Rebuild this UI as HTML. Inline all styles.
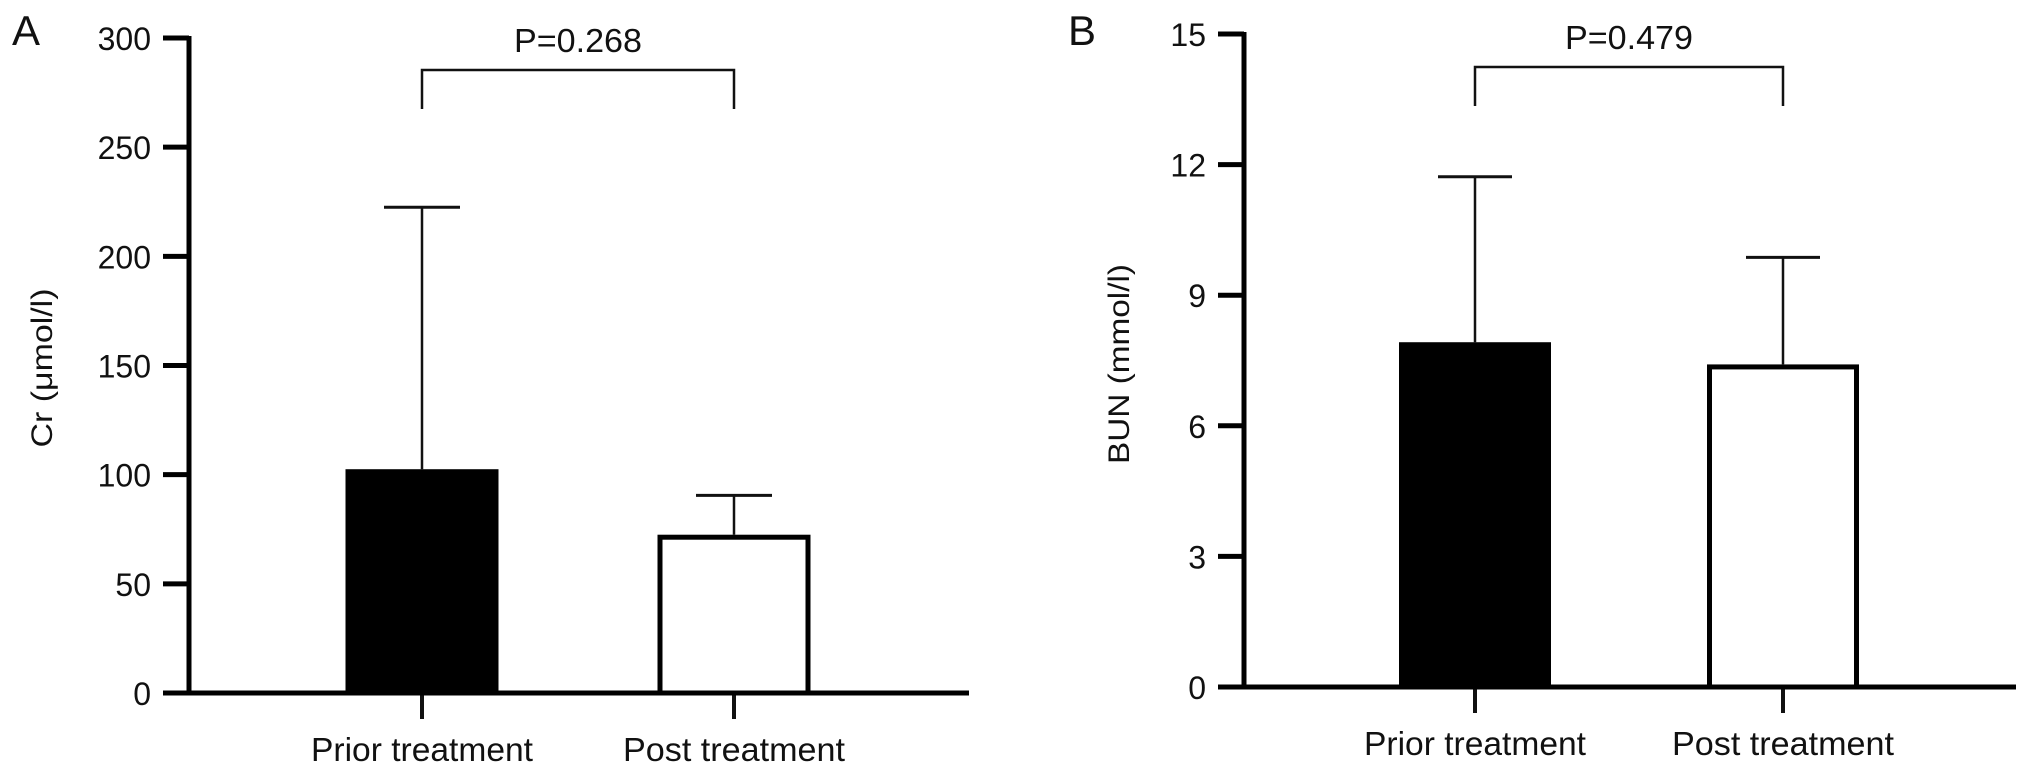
<!DOCTYPE html>
<html><head><meta charset="utf-8"><style>
html,body{margin:0;padding:0;background:#fff;}
svg{display:block;font-family:"Liberation Sans",Arial,sans-serif;}
</style></head><body>
<svg id="chart" width="2032" height="782" viewBox="0 0 2032 782" xmlns="http://www.w3.org/2000/svg">
<g id="pa"></g>
<g id="pb"></g>
</svg>
<script>
const categories = ["Prior treatment", "Post treatment"];
const crMeans = [102.5, 72.5];
const crErrors = [120, 18];
const crTicks = [0, 50, 100, 150, 200, 250, 300];
const crPLabel = "P=0.268";
const bunMeans = [7.92, 7.41];
const bunErrors = [3.8, 2.46];
const bunTicks = [0, 3, 6, 9, 12, 15];
const bunPLabel = "P=0.479";

const NS = "http://www.w3.org/2000/svg";
function mk(parent, tag, attrs, text) {
  const e = document.createElementNS(NS, tag);
  for (const k in attrs) e.setAttribute(k, attrs[k]);
  if (text !== undefined) e.textContent = text;
  parent.appendChild(e);
  return e;
}

function drawPanel(g, cfg) {
  const yScale = v => cfg.y0 + (cfg.yTop - cfg.y0) * (v - cfg.min) / (cfg.max - cfg.min);
  const xScale = i => cfg.cx[i];

  let t = mk(g, "text", {x: cfg.letterX, y: 45, "font-size": 42, fill: "#111"}, cfg.letter);
  
  

  t = mk(g, "text", {x: 0, y: 0, "font-size": cfg.titleSize, fill: "#111", "text-anchor": "middle",
    textLength: cfg.titleLen, lengthAdjust: "spacingAndGlyphs",
    transform: `translate(${cfg.titleX},${cfg.titleY}) rotate(-90)`}, cfg.title);
  
  

  categories.forEach((c, i) => {
    const cx = xScale(i), top = yScale(cfg.means[i]), etop = yScale(cfg.means[i] + cfg.errs[i]);
    const ln = mk(g, "line", {x1: cx, x2: cx, y1: etop, y2: top, stroke: "#111", "stroke-width": 2.5});
    
    
    const cap = mk(g, "line", {x1: cx - cfg.capW / 2, x2: cx + cfg.capW / 2, y1: etop, y2: etop, stroke: "#111", "stroke-width": 3});
    
    
    const filled = i === 0;
    const r = mk(g, "rect", {x: cx - cfg.barW / 2 + (filled ? 0 : 2.5), y: top + (filled ? 0 : 2.5),
      width: cfg.barW - (filled ? 0 : 5), height: cfg.y0 - top - (filled ? 0 : 2.5),
      fill: filled ? "#000" : "#fff", stroke: filled ? "none" : "#000", "stroke-width": 5});
    
    
    const xt = mk(g, "line", {x1: cx, x2: cx, y1: cfg.y0, y2: cfg.y0 + 26, stroke: "#111", "stroke-width": 4});
    
    
    const lbl = mk(g, "text", {x: cx, y: cfg.y0 + 68, "font-size": 33, fill: "#111", "text-anchor": "middle",
      textLength: 222, lengthAdjust: "spacingAndGlyphs"}, c);
    
    
  });

  const ya = mk(g, "line", {x1: cfg.axisX, x2: cfg.axisX, y1: yScale(cfg.max) - 2, y2: cfg.y0 + 2, stroke: "#000", "stroke-width": 5});
  
  
  cfg.ticks.forEach(v => {
    const y = yScale(v);
    const tk = mk(g, "line", {x1: cfg.axisX - 26, x2: cfg.axisX, y1: y, y2: y, stroke: "#000", "stroke-width": 5});
    
    
    const tl = mk(g, "text", {x: cfg.axisX - 38, y: y + 12, "font-size": 32, fill: "#111", "text-anchor": "end"}, String(v));
    
    
  });
  const xa = mk(g, "line", {x1: cfg.axisX - 26, x2: cfg.xEnd, y1: cfg.y0, y2: cfg.y0, stroke: "#000", "stroke-width": 5});
  
  

  const by = cfg.bracketY, bl = cfg.bracketY + 39;
  const br = mk(g, "polyline", {points: `${xScale(0)},${bl} ${xScale(0)},${by} ${xScale(1)},${by} ${xScale(1)},${bl}`,
    fill: "none", stroke: "#111", "stroke-width": 2.5});
  
  
  const pt = mk(g, "text", {x: (xScale(0) + xScale(1)) / 2, y: by - 18, "font-size": 33, fill: "#111", "text-anchor": "middle",
    textLength: 128, lengthAdjust: "spacingAndGlyphs"}, cfg.p);
  
  
}

drawPanel(document.getElementById("pa"), {
  letter: "A", letterX: 12, title: "Cr (\u03bcmol/l)", titleX: 52, titleY: 368, titleSize: 30, titleLen: 159,
  means: crMeans, errs: crErrors, ticks: crTicks, min: 0, max: 300, p: crPLabel,
  y0: 693, yTop: 38, axisX: 189, xEnd: 969, cx: [422, 734], barW: 153, capW: 76, bracketY: 70
});
drawPanel(document.getElementById("pb"), {
  letter: "B", letterX: 1068, title: "BUN (mmol/l)", titleX: 1129, titleY: 364, titleSize: 30, titleLen: 200,
  means: bunMeans, errs: bunErrors, ticks: bunTicks, min: 0, max: 15, p: bunPLabel,
  y0: 687, yTop: 34, axisX: 1244, xEnd: 2016, cx: [1475, 1783], barW: 152, capW: 74, bracketY: 67
});
</script>
</body></html>
